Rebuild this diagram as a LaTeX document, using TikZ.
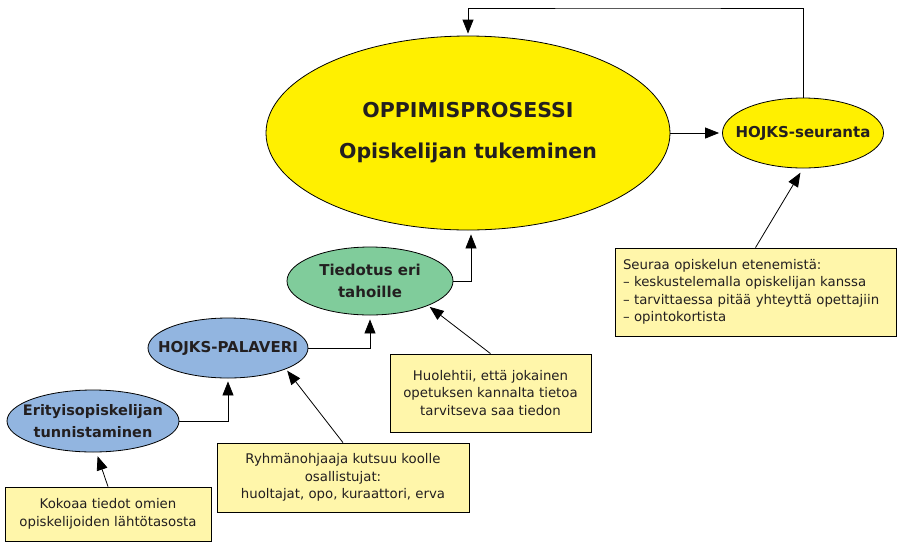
\documentclass[tikz,border=0pt]{standalone}
\usepackage{fontspec}
\setmainfont{DejaVu Sans}
\usetikzlibrary{shapes.geometric,arrows.meta}
\definecolor{keltainen}{RGB}{255,240,0}
\definecolor{vihrea}{RGB}{128,204,155}
\definecolor{sininen}{RGB}{146,181,224}
\definecolor{lappu}{RGB}{255,246,170}
\definecolor{teksti}{RGB}{35,31,32}

\begin{document}
\begin{tikzpicture}[x=1pt,y=-1pt,line width=0.8pt,text=teksti]
	% `state' is used for the ellipses, `note' for the yellow boxes.
	% `flow' and `pointer' are the two kinds of arrows.
	\tikzstyle{state} = [draw,shape=ellipse,inner xsep=-40pt,inner ysep=-20pt,align=center,font=\fontsize{15}{22}\selectfont\bfseries]
	\tikzstyle{note} = [draw,fill=lappu,inner sep=0pt,align=center,font=\fontsize{13.3}{17.5}\selectfont]
	\tikzstyle{flow} = [-{Triangle[length=14pt,width=11pt]}]
	\tikzstyle{pointer} = [-{Triangle[length=14pt,width=11pt]},shorten >=4pt]
	\useasboundingbox (0,0) rectangle (898,542);
	%
	% Ellipses.
	\node[state,fill=keltainen,minimum width=404pt,minimum height=194pt,font=\fontsize{20.5}{41}\selectfont\bfseries] (prosessi) at (468,133) {OPPIMISPROSESSI\\Opiskelijan tukeminen};
	\node[state,fill=keltainen,minimum width=161pt,minimum height=70pt] (seuranta) at (803,133) {HOJKS-seuranta};
	\node[state,fill=vihrea,minimum width=166pt,minimum height=68pt] (tiedotus) at (370,281) {Tiedotus eri\\tahoille};
	\node[state,fill=sininen,minimum width=160pt,minimum height=60pt] (palaveri) at (228,348) {HOJKS-PALAVERI};
	\node[state,fill=sininen,minimum width=172pt,minimum height=62pt,font=\fontsize{14.5}{22}\selectfont\bfseries] (tunnistus) at (93,421) {Erityisopiskelijan\\tunnistaminen};
	%
	% Yellow notes.
	\node[note,minimum width=206pt,minimum height=54pt] (kokoaa) at (108,514) {Kokoaa tiedot omien\\opiskelijoiden lähtötasosta};
	\node[note,minimum width=252pt,minimum height=69pt] (kutsuu) at (343,477.5) {Ryhmänohjaaja kutsuu koolle\\osallistujat:\\huoltajat, opo, kuraattori, erva};
	\node[note,minimum width=201pt,minimum height=78pt] (huolehtii) at (490.5,393) {Huolehtii, että jokainen\\opetuksen kannalta tietoa\\tarvitseva saa tiedon};
	\node[note,minimum width=281pt,minimum height=88pt,align=left,text width=265pt] (seuraa) at (755.5,292) {Seuraa opiskelun etenemistä:\\– keskustelemalla opiskelijan kanssa\\– tarvittaessa pitää yhteyttä opettajiin\\– opintokortista};
	%
	% Process arrows.
	\coordinate (paluu) at (640,8);
	\draw[flow,shorten >=3pt] (tunnistus.east) -| (palaveri.south);
	\draw[flow,shorten >=4pt] (palaveri.east) -| (tiedotus.south);
	\draw[flow,shorten >=4pt] (tiedotus.east) -| ([xshift=3pt]prosessi.south);
	\draw[flow,shorten >=3pt] (prosessi.east) -- (seuranta.west);
	\draw[flow,shorten >=2pt] (seuranta.north) |- (paluu) -| (prosessi.north);
	% Notes point to their ellipses.
	\draw[pointer] (kokoaa.north) -- (tunnistus.-84);
	\draw[pointer,shorten >=2pt] (kutsuu.north) -- (palaveri.-20);
	\draw[pointer,shorten >=2pt] (huolehtii.north) -- (tiedotus.-23);
	\draw[pointer,shorten >=5pt] (seuraa.north) -- (seuranta.south);
\end{tikzpicture}
\end{document}
